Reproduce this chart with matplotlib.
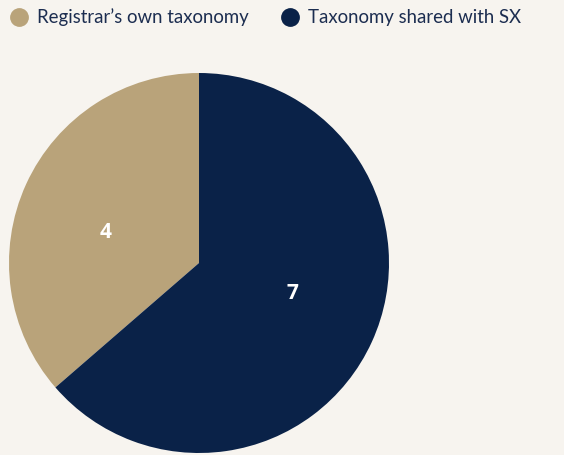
import matplotlib
matplotlib.use("Agg")
import numpy as np
import matplotlib.pyplot as plt
from matplotlib.lines import Line2D

# data
labels = ["Registrar\u2019s own taxonomy", "Taxonomy shared with SX"]
values = [4, 7]
colors = ["#b9a37a", "#0a2248"]

bg = "#f7f4ef"
text_color = "#1c2d50"

plt.rcParams['font.family'] = ['Lato', 'DejaVu Sans']

fig = plt.figure(figsize=(5.64, 4.55), dpi=100, facecolor=bg)

# pie axes: center (199, 263) px, radius ~190 px
W, H = 564, 455
cx, cy, r = 199, 455 - 263, 190
ax = fig.add_axes([(cx - r) / W, (cy - r) / H, 2 * r / W, 2 * r / H])
ax.set_facecolor(bg)

wedges, texts, autotexts = ax.pie(
    values,
    colors=colors,
    startangle=90,
    counterclock=True,
    autopct=lambda p: f"{round(p * sum(values) / 100):d}",
    pctdistance=0.53,
    radius=1.0,
    wedgeprops=dict(linewidth=0),
    textprops=dict(color="white", fontsize=15, fontweight="bold",
                   family=["Open Sans", "DejaVu Sans"]),
)
# nudge value labels a bit towards the horizontal
for t in autotexts:
    x, y = t.get_position()
    t.set_position((x * 1.02, y * 0.72))

ax.set_xlim(-1, 1)
ax.set_ylim(-1, 1)
ax.set_aspect("equal")
ax.axis("off")

# legend across the top
handles = [Line2D([], [], marker="o", linestyle="", markersize=12.5,
                  markerfacecolor=c, markeredgecolor=c) for c in colors]
leg = fig.legend(handles, labels, loc="upper left",
                 bbox_to_anchor=(6 / W, 1 - 4 / H),
                 ncol=2, frameon=False, fontsize=13.4, handlelength=0.9,
                 handletextpad=0.5, columnspacing=1.8, borderaxespad=0.0,
                 borderpad=0.25, labelcolor=text_color)

fig.savefig("out.png", dpi=100, facecolor=bg)
